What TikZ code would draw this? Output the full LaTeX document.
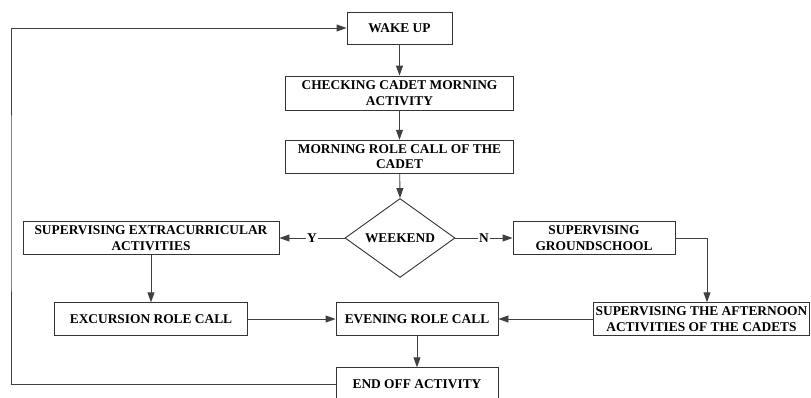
\documentclass[tikz,border=0pt]{standalone}
\usepackage{fontspec}
\setmainfont{Liberation Serif}
\usetikzlibrary{shapes.geometric,arrows.meta}
\begin{document}
\begin{tikzpicture}[x=1pt,y=-1pt,
  font=\fontsize{13.4}{15.5}\selectfont\bfseries,
  stepbox/.style={draw=black!80,line width=0.9pt,rectangle,inner sep=0pt,
    align=center,minimum height=32.5pt},
  decide/.style={draw=black!80,line width=0.9pt,diamond,inner sep=0pt,
    minimum width=110pt,minimum height=64pt},
  flow/.style={draw=black!75,line width=0.9pt,
    -{Triangle[length=10pt,width=7pt]}},
  tag/.style={fill=white,inner sep=1pt}]
\useasboundingbox (0,0) rectangle (811,397);
\clip (0,0) rectangle (811,397);

% process steps
\node[stepbox,minimum width=105pt,minimum height=32pt] (wake) at (399.5,28) {WAKE UP};
\node[stepbox,minimum width=228pt,minimum height=34pt] (check) at (399.5,93) {CHECKING CADET MORNING\\ACTIVITY};
\node[stepbox,minimum width=228pt,minimum height=33pt] (morning) at (399.5,156.7) {MORNING ROLE CALL OF THE\\CADET};
\node[decide] (weekend) at (400,238) {WEEKEND};
\node[stepbox,minimum width=256pt] (extra) at (151,238) {SUPERVISING EXTRACURRICULAR\\ACTIVITIES};
\node[stepbox,minimum width=162pt] (ground) at (594,238) {SUPERVISING\\GROUNDSCHOOL};
\node[stepbox,minimum width=193pt] (excursion) at (151,319) {EXCURSION ROLE CALL};
\node[stepbox,minimum width=162pt] (evening) at (417,319) {EVENING ROLE CALL};
\node[stepbox,minimum width=216pt] (afternoon) at (701.5,319) {SUPERVISING THE AFTERNOON\\ACTIVITIES OF THE CADETS};
\node[stepbox,minimum width=162pt] (endoff) at (417,384) {END OFF ACTIVITY};
\coordinate (loop) at (11,200);

% connectors
\draw[flow] (wake) -- (check);
\draw[flow] (check) -- (morning);
\draw[flow] (morning) -- (weekend.north);
\draw[flow] (weekend.west) -- node[tag] {Y} (extra.east);
\draw[flow] (weekend.east) -- node[tag] {N} (ground.west);
\draw[flow] (extra) -- (excursion);
\draw[flow] (ground.east) -| ([xshift=5.5pt]afternoon.north);
\draw[flow] (excursion) -- (evening);
\draw[flow] (afternoon) -- (evening);
\draw[flow] (evening) -- (endoff);
\draw[flow] (endoff.west) -| (loop) |- (wake.west);
\end{tikzpicture}
\end{document}
